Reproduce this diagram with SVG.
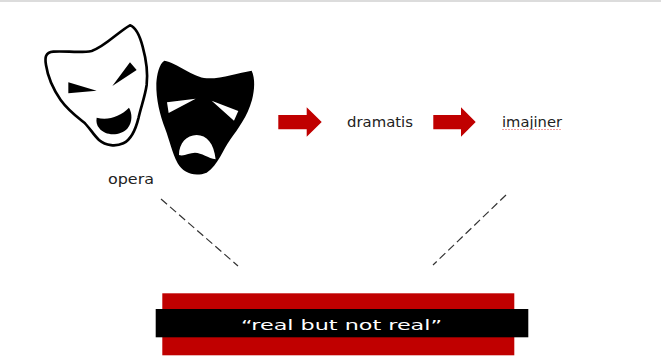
<svg xmlns="http://www.w3.org/2000/svg" width="661" height="360" viewBox="0 0 661 360">
<style>
.t{font-family:"DejaVu Sans","Liberation Sans",sans-serif;font-weight:400;font-size:14.5px;fill:#222}
.ar{fill:#c00000}
.d{stroke:#333;stroke-width:1.2;stroke-dasharray:8 4;fill:none}
</style>
<rect width="661" height="360" fill="#fff"/>
<rect x="0" y="0" width="661" height="2" fill="#dcdcdc"/>
<g id="masks" transform="translate(30,0) scale(.3333)">
<g id="mask-comedy">
<path d="M300 76C318 82 330 110 338 140C349 180 354 220 350 255C345 290 333 320 326 352C318 385 305 418 280 430C258 440 228 438 207 420C190 404 180 385 165 370C140 350 115 332 92 300C70 268 54 235 48 195C44 172 46 157 70 155C105 152 150 160 185 153C225 140 265 95 300 76Z" fill="#fff" stroke="#000" stroke-width="8"/>
<path d="M115 247L200 272L115 280Z M300 187L320 210L247 258Z"/>
<path d="M200 353C235 362 270 350 297 323C307 340 308 365 293 385C270 410 225 408 208 385C200 375 198 365 200 353Z"/>
</g>
<g id="mask-tragedy">
<path d="M403 182C440 188 490 232 530 235C575 237 625 218 665 212C676 235 674 270 666 300C652 350 625 385 600 420C578 450 565 495 530 518C495 532 460 520 443 490C425 455 420 425 405 385C390 345 378 300 379 250C380 225 388 190 403 182Z"/>
<path d="M411 307L497 296L416 339Z M545 302L625 333L612 362Z" fill="#fff"/>
<path d="M447 465C447 430 470 405 500 405C530 405 552 430 557 478C535 475 515 458 495 458C478 458 462 470 447 465Z" fill="#fff"/>
</g>
</g>
<g id="opera"><text class="t" x="108" y="184" textLength="46" lengthAdjust="spacingAndGlyphs">opera</text></g>
<g id="dramatis"><text class="t" x="347" y="127" textLength="66" lengthAdjust="spacingAndGlyphs">dramatis</text></g>
<g id="imajiner"><text class="t" x="502" y="127" textLength="60" lengthAdjust="spacingAndGlyphs">imajiner</text>
<path d="M502 129.5h60" stroke="#f2a0a0" stroke-width="1" stroke-dasharray="2 1" fill="none"/></g>
<g id="connectors">
<path class="ar" d="M278.3 115H306.7V107.3L321.7 122L306.7 136.7V129.3H278.3Z"/>
<path class="ar" d="M433.3 115H461V107.3L475.7 122L461 136.7V129.3H433.3Z"/>
<line class="d" x1="161" y1="199" x2="238" y2="266"/>
<line class="d" x1="506" y1="195" x2="433" y2="265"/>
</g>
<g id="banner">
<rect x="162.3" y="293.3" width="352" height="62" fill="#c00000"/>
<rect x="155.7" y="309" width="372.6" height="28.3" fill="#000"/>
<text class="t" x="241" y="329.5" textLength="201" lengthAdjust="spacingAndGlyphs" style="fill:#fff">“real but not real”</text>
</g>
</svg>
